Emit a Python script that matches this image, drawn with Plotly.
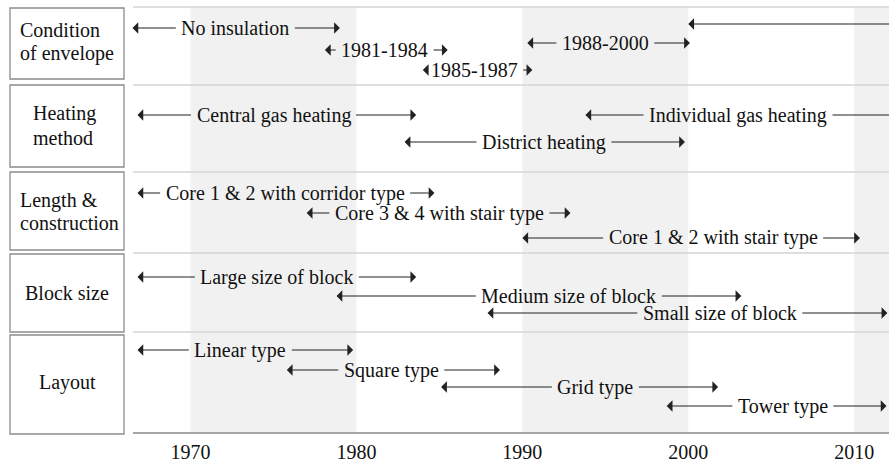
import plotly.graph_objects as go

# ---------------- data ----------------
categories = ["Condition<br>of envelope", "Heating<br>method", "Length &<br>construction",
              "Block size", "Layout"]

item_category = [0, 0, 0, 0, 0,
                 1, 1, 1,
                 2, 2, 2,
                 3, 3, 3,
                 4, 4, 4, 4]
item_labels = ["No insulation", "1981-1984", "1985-1987", "1988-2000", "",
               "Central gas heating", "Individual gas heating", "District heating",
               "Core 1 & 2 with corridor type", "Core 3 & 4 with stair type",
               "Core 1 & 2 with stair type",
               "Large size of block", "Medium size of block", "Small size of block",
               "Linear type", "Square type", "Grid type", "Tower type"]
item_start = [1966.5, 1978.1, 1984.0, 1990.3, 2000.0,
              1966.8, 1993.8, 1982.9,
              1966.8, 1977.0, 1990.0,
              1966.8, 1978.8, 1987.9,
              1966.8, 1975.8, 1985.1, 1998.7]
item_end = [1979.0, 1985.5, 1990.6, 2000.1, 2015.0,
            1983.6, 2015.0, 1999.8,
            1984.7, 1992.9, 2010.35,
            1983.6, 2003.2, 2012.0,
            1979.8, 1988.65, 2001.8, 2011.95]
item_label_year = [1972.7, 1981.7, 1987.1, 1995.0, None,
                   1975.0, 2003.0, 1991.3,
                   1975.7, 1985.0, 2001.5,
                   1975.2, 1992.8, 2001.9,
                   1973.0, 1982.1, 1994.4, 2005.7]
decade_ticks = [1970, 1980, 1990, 2000, 2010]
shaded_from = [1970, 1990, 2010]
shaded_to = [1980, 2000, 2020]

# ---------------- layout helpers (pixel positions) ----------------
W, H = 889, 466
PLOT_L, PLOT_T, PLOT_B = 133, 7, 433
X_RANGE = [1966.53, 2012.10]
FONT = "'Liberation Serif', 'Times New Roman', serif"


def py(px):
    return (PLOT_B - px) / (PLOT_B - PLOT_T)


def pxx(px):
    return (px - PLOT_L) / (W - PLOT_L)


row_lines_px = [7, 85, 172, 253, 332]
box_px = [(8, 79), (85, 167), (172, 250), (254, 332), (335, 434)]
box_text_lines_px = [[30, 53], [114, 138], [200, 223], [293], [382]]
box_text_x = [19, 32, 19, None, None]
lane_px = [28, 50, 70, 43, 24,
           115, 115, 142,
           193, 213, 238,
           277, 296, 313,
           350, 370, 387, 406]

fig = go.Figure()
fig.add_trace(go.Scatter(x=X_RANGE, y=[0, 1], mode="markers",
                         marker=dict(opacity=0), hoverinfo="skip", showlegend=False))

shapes = []
for a, b in zip(shaded_from, shaded_to):
    shapes.append(dict(type="rect", xref="x", yref="paper", x0=a, x1=b, y0=0, y1=1,
                       fillcolor="#f1f1f1", line=dict(width=0), layer="below"))
for ypx in row_lines_px:
    shapes.append(dict(type="line", xref="paper", yref="paper", x0=0, x1=1,
                       y0=py(ypx), y1=py(ypx), line=dict(color="#d4d4d4", width=1.5)))
shapes.append(dict(type="line", xref="paper", yref="paper", x0=0, x1=1,
                   y0=py(433), y1=py(433), line=dict(color="#a6a6a6", width=2)))
for (t, b) in box_px:
    shapes.append(dict(type="rect", xref="paper", yref="paper",
                       x0=pxx(10), x1=pxx(124), y0=py(b), y1=py(t),
                       line=dict(color="#8c8c8c", width=1.3), fillcolor="rgba(0,0,0,0)"))

annotations = []
for i, cat in enumerate(categories):
    lines = cat.split("<br>")
    for line, ypx in zip(lines, box_text_lines_px[i]):
        if box_text_x[i] is None:
            annotations.append(dict(x=pxx(67), y=py(ypx), xref="paper", yref="paper",
                                    text=line, showarrow=False, xanchor="center",
                                    yanchor="middle",
                                    font=dict(family=FONT, size=20, color="#111")))
        else:
            annotations.append(dict(x=pxx(box_text_x[i] - 1), y=py(ypx), xref="paper",
                                    yref="paper", text=line, showarrow=False,
                                    xanchor="left", yanchor="middle",
                                    font=dict(family=FONT, size=20, color="#111")))


def arrow(text, tail, head, ypos, visible):
    return dict(x=head, y=ypos, xref="x", yref="paper", ax=tail, ay=0,
                axref="x", ayref="pixel", text=text if text else " ",
                showarrow=True, arrowhead=1, arrowsize=1.75, arrowwidth=1.1,
                arrowcolor="#222", borderpad=5, xanchor="center", yanchor="middle",
                font=dict(family=FONT, size=20,
                          color="#111" if visible else "rgba(0,0,0,0)"))


for i, lab in enumerate(item_labels):
    ypos = py(lane_px[i])
    if item_label_year[i] is None:
        annotations.append(arrow("", item_end[i], item_start[i], ypos, False))
        continue
    mid = item_label_year[i]
    annotations.append(arrow(lab, mid, item_start[i], ypos, True))
    annotations.append(arrow(lab, mid, item_end[i], ypos, False))

fig.update_layout(
    width=W, height=H,
    margin=dict(l=PLOT_L, r=0, t=PLOT_T, b=H - PLOT_B),
    paper_bgcolor="white", plot_bgcolor="white",
    showlegend=False,
    font=dict(family=FONT),
    xaxis=dict(range=X_RANGE, tickvals=decade_ticks, ticks="", showgrid=False,
               zeroline=False, showline=False, ticklabelstandoff=5, fixedrange=True,
               tickfont=dict(family=FONT, size=20, color="#111")),
    yaxis=dict(range=[0, 1], visible=False, fixedrange=True),
    shapes=shapes,
    annotations=annotations,
)

fig.write_html("out.html", config={"displayModeBar": False},
               post_script="document.body.style.margin='0';document.body.style.overflow='hidden';")
